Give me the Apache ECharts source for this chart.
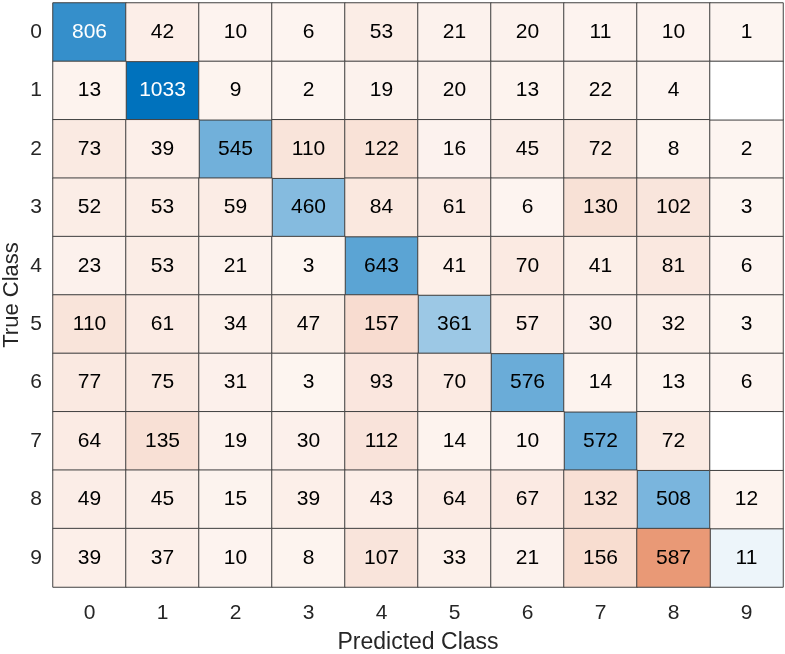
<!DOCTYPE html>
<html>
<head>
<meta charset="utf-8">
<script src="https://cdn.jsdelivr.net/npm/echarts@6/dist/echarts.min.js"></script>
<style>html,body{margin:0;padding:0;background:#fff;}#c{width:785px;height:654px;}</style>
</head>
<body>
<div id="c"></div>
<script>
const classes = ['0','1','2','3','4','5','6','7','8','9'];
const row0 = [806, 42, 10, 6, 53, 21, 20, 11, 10, 1];
const row1 = [13, 1033, 9, 2, 19, 20, 13, 22, 4, 0];
const row2 = [73, 39, 545, 110, 122, 16, 45, 72, 8, 2];
const row3 = [52, 53, 59, 460, 84, 61, 6, 130, 102, 3];
const row4 = [23, 53, 21, 3, 643, 41, 70, 41, 81, 6];
const row5 = [110, 61, 34, 47, 157, 361, 57, 30, 32, 3];
const row6 = [77, 75, 31, 3, 93, 70, 576, 14, 13, 6];
const row7 = [64, 135, 19, 30, 112, 14, 10, 572, 72, 0];
const row8 = [49, 45, 15, 39, 43, 64, 67, 132, 508, 12];
const row9 = [39, 37, 10, 8, 107, 33, 21, 156, 587, 11];
const rows = [row0,row1,row2,row3,row4,row5,row6,row7,row8,row9];
const xTitle = 'Predicted Class';
const yTitle = 'True Class';

let maxVal = 0;
rows.forEach(r => r.forEach(v => { if (v > maxVal) maxVal = v; }));

const diag = [], off = [], empty = [];
rows.forEach((r, i) => r.forEach((v, j) => {
  const item = { value: [j, i, v], label: { color: v > 0.7 * maxVal ? '#ffffff' : '#000000' } };
  if (v === 0) empty.push(item);
  else if (i === j) diag.push(item);
  else off.push(item);
}));

const font = 'Liberation Sans, Arial, Helvetica, sans-serif';
const labelCfg = {
  show: true, fontFamily: font, fontSize: 21,
  formatter: p => p.value[2] === 0 ? '' : String(p.value[2])
};
const itemCfg = { borderColor: '#404040', borderWidth: 1 };

const chart = echarts.init(document.getElementById('c'));
chart.setOption({
  animation: false,
  backgroundColor: '#ffffff',
  grid: { left: 53, top: 3, width: 730, height: 584, outerBoundsMode: 'none', containLabel: false },
  xAxis: {
    type: 'category', data: classes, position: 'bottom',
    name: xTitle, nameLocation: 'middle', nameGap: 44, nameMoveOverlap: false,
    nameTextStyle: { fontFamily: font, fontSize: 23, color: '#262626' },
    axisLine: { show: false }, axisTick: { show: false },
    axisLabel: { fontFamily: font, fontSize: 21, color: '#262626', margin: 16 },
    splitArea: { show: false }
  },
  yAxis: {
    type: 'category', data: classes, inverse: true,
    axisLine: { show: false }, axisTick: { show: false },
    axisLabel: { fontFamily: font, fontSize: 21, color: '#262626', margin: 11 },
    splitArea: { show: false }
  },
  graphic: [{
    type: 'text', x: 12, y: 295, rotation: Math.PI / 2,
    style: { text: yTitle, fontFamily: font, fontSize: 22, fill: '#262626', align: 'center', verticalAlign: 'middle' }
  }],
  visualMap: [
    { show: false, seriesIndex: 0, min: 0, max: maxVal, dimension: 2, inRange: { color: ['#F0F6FB', '#0072BD'] } },
    { show: false, seriesIndex: 1, min: 0, max: maxVal, dimension: 2, inRange: { color: ['#FDF5F1', '#D95319'] } }
  ],
  series: [
    { type: 'heatmap', data: diag, label: labelCfg, itemStyle: itemCfg, emphasis: { disabled: true } },
    { type: 'heatmap', data: off, label: labelCfg, itemStyle: itemCfg, emphasis: { disabled: true } },
    { type: 'heatmap', data: empty, label: labelCfg, itemStyle: Object.assign({ color: '#ffffff' }, itemCfg), emphasis: { disabled: true } }
  ]
});
</script>
</body>
</html>
